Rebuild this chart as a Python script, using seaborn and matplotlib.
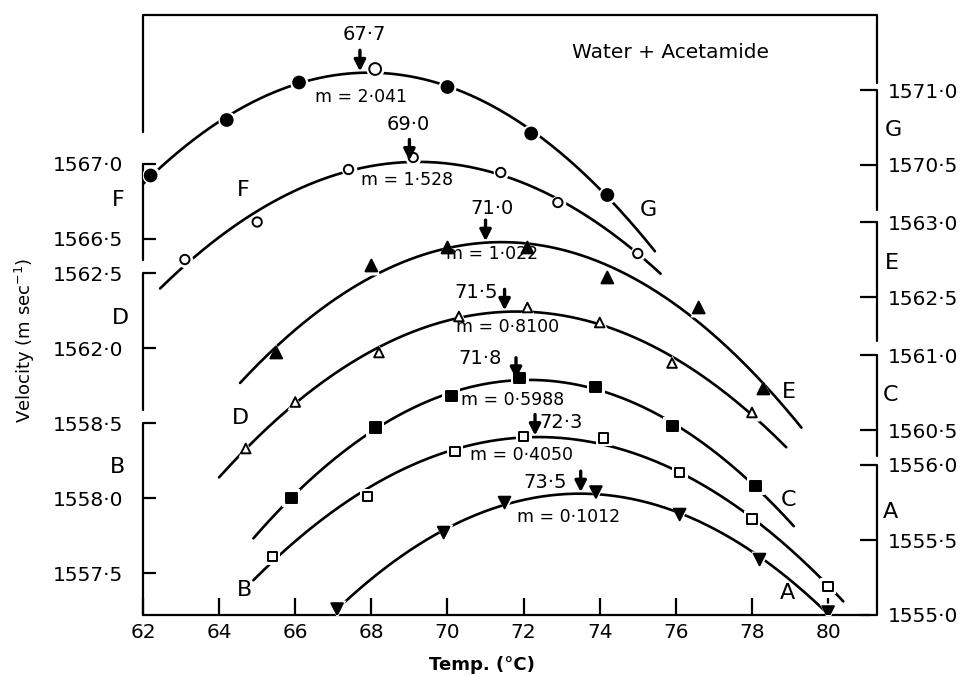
import numpy as np
import matplotlib
matplotlib.use("Agg")
import matplotlib.pyplot as plt
import seaborn as sns

# ---------------- data ----------------
temp_A = [67.1, 69.9, 71.5, 73.9, 76.1, 78.2, 80.0]
vel_A = [1555.04, 1555.55, 1555.75, 1555.82, 1555.67, 1555.37, 1555.02]
temp_B = [65.4, 67.9, 70.2, 72.0, 74.1, 76.1, 78.0, 80.0]
vel_B = [1557.61, 1558.01, 1558.31, 1558.41, 1558.40, 1558.17, 1557.86, 1557.41]
temp_C = [65.9, 68.1, 70.1, 71.9, 73.9, 75.9, 78.1]
vel_C = [1560.05, 1560.52, 1560.73, 1560.85, 1560.79, 1560.53, 1560.13]
temp_D = [64.7, 66.0, 68.2, 70.3, 72.1, 74.0, 75.9, 78.0]
vel_D = [1561.33, 1561.64, 1561.97, 1562.21, 1562.27, 1562.17, 1561.90, 1561.57]
temp_E = [65.5, 68.0, 70.0, 72.1, 74.2, 76.6, 78.3]
vel_E = [1562.13, 1562.71, 1562.83, 1562.83, 1562.63, 1562.43, 1561.89]
temp_F = [63.1, 65.0, 67.4, 69.1, 71.4, 72.9, 75.0]
vel_F = [1566.36, 1566.61, 1566.96, 1567.04, 1566.94, 1566.74, 1566.40]
temp_G = [62.2, 64.2, 66.1, 68.1, 70.0, 72.2, 74.2]
vel_G = [1570.43, 1570.80, 1571.05, 1571.14, 1571.02, 1570.71, 1570.30]

# temperature range covered by each fitted curve
span_A = (67.3, 80.2)
span_B = (64.9, 80.4)
span_C = (64.9, 79.1)
span_D = (64.0, 78.9)
span_E = (64.55, 79.3)
span_F = (62.45, 75.6)
span_G = (62.0, 75.45)

# temperature of maximum velocity and molality
peak_temp = {"G": 67.7, "F": 69.0, "E": 71.0, "D": 71.5, "C": 71.8, "B": 72.3, "A": 73.5}
molality = {"G": "2·041", "F": "1·528", "E": "1·022", "D": "0·8100",
            "C": "0·5988", "B": "0·4050", "A": "0·1012"}

# axis tick values for each (staggered) velocity scale
ticks_left = {"F": [1567.0, 1566.5], "D": [1562.5, 1562.0], "B": [1558.5, 1558.0, 1557.5]}
ticks_right = {"G": [1571.0, 1570.5], "E": [1563.0, 1562.5], "C": [1561.0, 1560.5],
               "A": [1556.0, 1555.5, 1555.0]}
xticks = [62, 64, 66, 68, 70, 72, 74, 76, 78, 80]

# ---------------- layout ----------------
# zero of each staggered velocity scale on the common vertical axis
base = {"A": 1555.00, "B": 1557.22, "C": 1559.27, "D": 1560.22,
        "E": 1560.38, "F": 1563.99, "G": 1567.50}
# lower end of each axis segment (velocity)
seg_low = {"F": 1566.36, "D": 1561.59, "B": 1557.22,
           "G": 1570.20, "E": 1562.21, "C": 1560.33, "A": 1555.0}

sns.set_theme(style="white")
plt.rcParams["font.family"] = ["DejaVu Sans"]
plt.rcParams["mathtext.fontset"] = "dejavusans"
for k in ["text.color", "axes.labelcolor", "xtick.color", "ytick.color", "axes.edgecolor"]:
    plt.rcParams[k] = "black"

W, H = 965, 676
fig = plt.figure(figsize=(W / 100, H / 100), dpi=100)
ax = fig.add_axes([143 / W, 61 / H, 734 / W, 600 / H])
PXX = 38.06  # pixels per degree
XR = 62 + 734 / PXX
ax.set_xlim(62, XR)
ax.set_ylim(0, 4.0)


def P(px, py):
    return 62 + (px - 143) / PXX, (615 - py) / 150.0


for s in ax.spines.values():
    s.set_visible(False)

LW = 1.6
# frame pieces
ax.plot([62, XR], [4.0, 4.0], color="black", lw=LW, clip_on=False, solid_capstyle="butt")
ax.plot([62, 62], [4.0, P(0, 132)[1]], color="black", lw=LW, clip_on=False)
ax.plot([XR, XR], [4.0, P(0, 83)[1]], color="black", lw=LW, clip_on=False)
ax.plot([62, P(870, 0)[0]], [0, 0], color="black", lw=LW, clip_on=False)
for k, tv in ticks_left.items():
    ax.plot([62, 62], [max(tv) - base[k], seg_low[k] - base[k]], color="black", lw=LW, clip_on=False)
for k, tv in ticks_right.items():
    ax.plot([XR, XR], [max(tv) - base[k], seg_low[k] - base[k]], color="black", lw=LW, clip_on=False)

# ticks
ax.set_xticks(xticks)
ax.set_xticklabels([str(t) for t in xticks])
ypos_l, ylab_l = [], []
for k, tv in ticks_left.items():
    for t in tv:
        ypos_l.append(t - base[k])
        ylab_l.append(f"{t:.1f}".replace(".", "·"))
ax.set_yticks(ypos_l)
ax.set_yticklabels(ylab_l)
ax.tick_params(axis="x", direction="in", length=12, width=LW, pad=6, labelsize=14.5, bottom=True,
               colors="black")
ax.tick_params(axis="y", direction="in", length=9, width=LW, pad=14, labelsize=14.5, left=True,
               colors="black")

tw = ax.twinx()
tw.set_ylim(ax.get_ylim())
for s in tw.spines.values():
    s.set_visible(False)
ypos_r, ylab_r = [], []
for k, tv in ticks_right.items():
    for t in tv:
        ypos_r.append(t - base[k])
        ylab_r.append(f"{t:.1f}".replace(".", "·"))
tw.set_yticks(ypos_r)
tw.set_yticklabels(ylab_r)
tw.tick_params(axis="y", direction="in", length=12, width=LW, pad=8, labelsize=14.5, right=True,
               colors="black")
tw.grid(False)
ax.grid(False)

# ---------------- curves and points ----------------
series = [
    ("A", temp_A, vel_A, span_A, "v", [True] * 7, 70),
    ("B", temp_B, vel_B, span_B, "s", [False] * 8, 48),
    ("C", temp_C, vel_C, span_C, "s", [True] * 7, 62),
    ("D", temp_D, vel_D, span_D, "^", [False] * 8, 48),
    ("E", temp_E, vel_E, span_E, "^", [True] * 7, 72),
    ("F", temp_F, vel_F, span_F, "o", [False] * 7, 45),
    ("G", temp_G, vel_G, span_G, "o", [True, True, True, False, True, True, True], 72),
]

for key, t, v, span, mk, filled, size in series:
    t = np.asarray(t, float)
    v = np.asarray(v, float)
    coef = np.polyfit(t - 70, v, 2)
    xs = np.linspace(span[0], span[1], 300)
    ys = np.polyval(coef, xs - 70) - base[key]
    sns.lineplot(x=xs, y=ys, ax=ax, color="black", lw=1.9, sort=False, estimator=None)
    halo = (np.sqrt(size) + 4.5) ** 2
    ax.scatter(t, v - base[key], s=halo, marker=mk, c="white", linewidths=0, zorder=3)
    fcs = ["black" if f else "white" for f in filled]
    ax.scatter(t, v - base[key], s=size, marker=mk, facecolors=fcs, edgecolors="black",
               linewidths=1.4, zorder=4)
    # arrow at temperature of maximum
    pk = peak_temp[key]
    tip = np.polyval(coef, pk - 70) - base[key] + 0.01
    ax.annotate("", xy=(pk, tip), xytext=(pk, tip + 0.14),
                arrowprops=dict(arrowstyle="-|>,head_width=0.28,head_length=0.55",
                                color="black", lw=2.4, shrinkA=0, shrinkB=0), zorder=5)

# ---------------- text ----------------
peak_lbl_px = {"G": (364, 35), "F": (408, 125), "E": (492, 208), "D": (476, 292),
               "C": (480, 358), "B": (561, 423), "A": (545, 482)}
m_lbl_px = {"G": (361, 97), "F": (407, 180), "E": (492, 254), "D": (508, 327),
            "C": (513, 400), "B": (521, 455), "A": (569, 517)}
for key in peak_temp:
    x, y = P(*peak_lbl_px[key])
    ax.text(x, y, f"{peak_temp[key]:.1f}".replace(".", "·"), ha="center", va="center",
            fontsize=14, zorder=6)
    x, y = P(*m_lbl_px[key])
    ax.text(x, y, f"m = {molality[key]}", ha="center", va="center", fontsize=12.5, zorder=6)

curve_lbl_px = {"G": [(648, 210), (893, 130)], "F": [(243, 190), (118, 200)],
                "E": [(789, 392), (892, 263)], "D": [(240, 418), (120, 318)],
                "C": [(788, 500), (890, 395)], "B": [(245, 590), (117, 467)],
                "A": [(787, 593), (890, 512)]}
for key, pts in curve_lbl_px.items():
    for px, py in pts:
        x, y = P(px, py)
        ax.text(x, y, key, ha="center", va="center", fontsize=16, clip_on=False, zorder=6)

x, y = P(670, 52)
ax.text(x, y, "Water + Acetamide", ha="center", va="center", fontsize=14.5)

fig.text(482 / W, 1 - 665 / H, "Temp. (°C)", ha="center", va="center", fontsize=13,
         fontweight="bold")
fig.text(25 / W, 1 - 340 / H, "Velocity (m sec$^{-1}$)", ha="center", va="center",
         fontsize=13, rotation=90)

fig.savefig("out.png", dpi=100)
